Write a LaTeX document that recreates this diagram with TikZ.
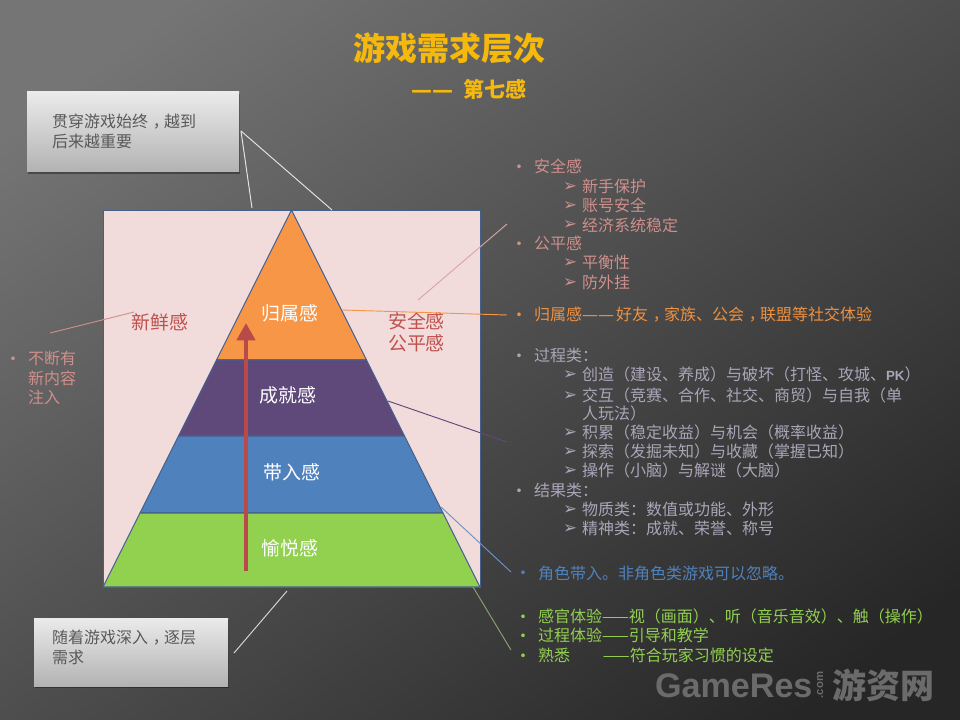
\documentclass[tikz,border=0pt]{standalone}
\usepackage{fontspec}
\setmainfont{Noto Sans CJK SC}
\newfontfamily\djv{DejaVu Sans}
\newfontfamily\lat{Liberation Sans}
\usetikzlibrary{arrows.meta}
\definecolor{pinktx}{HTML}{CF8F8C}
\definecolor{orgtx}{HTML}{EE9140}
\definecolor{purtx}{HTML}{ABA5B8}
\definecolor{blutx}{HTML}{4F81BD}
\definecolor{grntx}{HTML}{92D050}
\definecolor{gold}{HTML}{F5B80C}
\definecolor{panel}{HTML}{F2DCDB}
\definecolor{edge}{HTML}{44608C}
\definecolor{sidetx}{HTML}{C0504D}
\definecolor{shaft}{HTML}{B84A4A}
\definecolor{orgfill}{HTML}{F79646}
\definecolor{purfill}{HTML}{5F497A}
\definecolor{blufill}{HTML}{4F81BD}
\definecolor{grnfill}{HTML}{92D050}
\definecolor{wmark}{HTML}{6B6B6B}
\newcommand{\dd}{{\djv ——}}
\newcommand{\cmm}{\hspace{0.3em}，\hspace{-0.3em}}
\tikzset{
  x=0.75pt,y=-0.75pt,
  every node/.style={inner sep=0pt,outer sep=0pt},
  lbl/.style={anchor=west,font=\fontsize{12}{14}\selectfont},
  dot/.style={anchor=center,yshift=-1.5pt,font=\fontsize{9.5}{12}\selectfont\djv},
  chev/.style={anchor=center,yshift=-1pt,font=\fontsize{12.5}{14}\selectfont\djv},
  tier/.style={fill=#1,draw=edge,line width=0.8pt,line join=round},
  layer/.style={anchor=center,font=\fontsize{14.2}{17}\selectfont,text=white},
  side/.style={anchor=center,font=\fontsize{14.2}{17}\selectfont,text=sidetx},
  leader/.style={line width=0.7pt},
  card/.style={anchor=north west,top color=black!8,bottom color=black!30},
  cardtx/.style={anchor=west,align=left,text=black!65,font=\fontsize{12}{15}\selectfont},
}
\begin{document}
\begin{tikzpicture}
\useasboundingbox (0,0) rectangle (960,720);
\begin{scope}
\clip (0,0) rectangle (960,720);
\shade[shading=axis,top color=black!54,bottom color=black!85,shading angle=37] (-60,-60) rectangle (1020,780);
\end{scope}

% title
\node[anchor=center,text=gold,font=\fontsize{24}{28}\selectfont\bfseries] (title) at (449,48) {游戏需求层次};
\node[anchor=west,text=gold,font=\fontsize{15.75}{18}\selectfont\bfseries] (subtitle) at (411,89) {\dd\hspace{8pt}第七感};

% cards
\fill[black,opacity=.35] (28,94) rectangle (240,174);
\node[card,minimum width=159pt,minimum height=60pt] (cardA) at (27,92) {};
\node[cardtx] (cardAt) at (52,131) {贯穿游戏始终\cmm 越到\\后来越重要};
\fill[black,opacity=.35] (35,620) rectangle (229,688);
\node[card,minimum width=145.5pt,minimum height=51pt] (cardB) at (34,618) {};
\node[cardtx] (cardBt) at (52,647.5) {随着游戏深入\cmm 逐层\\需求};

% panel and pyramid
\filldraw[fill=panel,draw=edge,line width=0.7pt] (103,210) rectangle (480,587);
\path[tier=orgfill] (291.5,210) -- (366.5,360) -- (216.5,360) -- cycle;
\path[tier=purfill] (216.5,360) -- (366.5,360) -- (404.5,436) -- (178.5,436) -- cycle;
\path[tier=blufill] (178.5,436) -- (404.5,436) -- (443,513) -- (140,513) -- cycle;
\path[tier=grnfill] (140,513) -- (443,513) -- (480,587) -- (103,587) -- cycle;

\node[layer] (belong) at (290,313) {归属感};
\node[layer] (achieve) at (288,395) {成就感};
\node[layer] (immerse) at (292,472) {带入感};
\node[layer] (joy) at (290,548) {愉悦感};
\node[side] (fresh) at (160,322) {新鲜感};
\node[side,align=center,font=\fontsize{14.2}{16.5}\selectfont] (safe) at (416.5,332) {安全感\\公平感};

% ascent arrow
\coordinate (arrowfoot) at (246,571);
\coordinate (arrowtip) at (246,323);
\draw[shaft,line width=3.4pt,-{Triangle[width=13.5pt,length=13pt]}] (arrowfoot) -- (arrowtip);

% leaders
\coordinate (cA) at (241,131);
\coordinate (cA1) at (252,208);
\coordinate (cA2) at (332,210);
\coordinate (cB) at (234,653);
\coordinate (cB1) at (287,591);
\coordinate (n1) at (50,333);
\coordinate (n2) at (134,312);
\coordinate (s1) at (418,300);
\coordinate (s2) at (507,224);
\coordinate (o1) at (342,310);
\coordinate (o2) at (507,315);
\coordinate (p1) at (388,401);
\coordinate (p2) at (507,442);
\coordinate (b1) at (441,507);
\coordinate (b2) at (511,572);
\coordinate (g1) at (473,587);
\coordinate (g2) at (511,650);
\draw[leader,white!90!black] (cA) -- (cA1);
\draw[leader,white!90!black] (cA) -- (cA2);
\draw[leader,white!85!black] (cB) -- (cB1);
\draw[leader,pinktx] (n1) -- (n2);
\draw[leader,pinktx!80!white] (s1) -- (s2);
\draw[leader,orgfill] (o1) -- (o2);
\draw[leader,purfill] (p1) -- (p2);
\draw[leader,blufill!85!white] (b1) -- (b2);
\draw[leader,grnfill!60!black!70!white] (g1) -- (g2);

% left note
\node[dot,text=pinktx] (ld) at (13,358) {•};
\node[lbl,text=pinktx] (l1) at (28,358) {不断有};
\node[lbl,text=pinktx] (l2) at (28,378) {新内容};
\node[lbl,text=pinktx] (l3) at (28,397) {注入};

% right column: safety
\node[dot,text=pinktx] at (519,166) {•};
\node[lbl,text=pinktx] (a1) at (534,166) {安全感};
\node[chev,text=pinktx] at (570,186) {➢};
\node[lbl,text=pinktx] (a2) at (582,186) {新手保护};
\node[chev,text=pinktx] at (570,205) {➢};
\node[lbl,text=pinktx] (a3) at (582,205) {账号安全};
\node[chev,text=pinktx] at (570,224) {➢};
\node[lbl,text=pinktx] (a4) at (582,225) {经济系统稳定};
\node[dot,text=pinktx] at (519,243) {•};
\node[lbl,text=pinktx] (a5) at (534,243) {公平感};
\node[chev,text=pinktx] at (570,262) {➢};
\node[lbl,text=pinktx] (a6) at (582,262) {平衡性};
\node[chev,text=pinktx] at (570,282) {➢};
\node[lbl,text=pinktx] (a7) at (582,282) {防外挂};

% belonging
\node[dot,text=orgtx] at (519,314) {•};
\node[lbl,text=orgtx] (o) at (534,315) {归属感\dd\hspace{1.5pt}好友\cmm 家族、公会\cmm 联盟等社交体验};

% achievement
\node[dot,text=purtx] at (519,355) {•};
\node[lbl,text=purtx] (c1) at (534,355) {过程类：};
\node[chev,text=purtx] at (570,374) {➢};
\node[lbl,text=purtx] (c2) at (582,374) {创造（建设、养成）与破坏（打怪、攻城、{\lat\bfseries\fontsize{10}{12}\selectfont PK}）};
\node[chev,text=purtx] at (570,395) {➢};
\node[lbl,text=purtx] (c3) at (582,395) {交互（竞赛、合作、社交、商贸）与自我（单};
\node[lbl,text=purtx] (c3b) at (582,413) {人玩法）};
\node[chev,text=purtx] at (570,432) {➢};
\node[lbl,text=purtx] (c4) at (582,432) {积累（稳定收益）与机会（概率收益）};
\node[chev,text=purtx] at (570,451) {➢};
\node[lbl,text=purtx] (c5) at (582,451) {探索（发掘未知）与收藏（掌握已知）};
\node[chev,text=purtx] at (570,470) {➢};
\node[lbl,text=purtx] (c6) at (582,470) {操作（小脑）与解谜（大脑）};
\node[dot,text=purtx] at (519,490) {•};
\node[lbl,text=purtx] (c7) at (534,490) {结果类：};
\node[chev,text=purtx] at (570,509) {➢};
\node[lbl,text=purtx] (c8) at (582,509) {物质类：数值或功能、外形};
\node[chev,text=purtx] at (570,528) {➢};
\node[lbl,text=purtx] (c9) at (582,528) {精神类：成就、荣誉、称号};

% immersion
\node[dot,text=blutx] at (523,572) {•};
\node[lbl,text=blutx] (d1) at (538,573) {角色带入。非角色类游戏可以忽略。};

% joy
\node[dot,text=grntx] at (523,616) {•};
\node[lbl,text=grntx] (e1) at (538,616) {感官体验——视（画面）、听（音乐音效）、触（操作）};
\node[dot,text=grntx] at (523,635) {•};
\node[lbl,text=grntx] (e2) at (538,635) {过程体验——引导和教学};
\node[dot,text=grntx] at (523,655) {•};
\node[lbl,text=grntx] (e3) at (538,655) {熟悉\hspace{24.75pt}——符合玩家习惯的设定};

% watermark
\node[anchor=west,text=wmark,font=\lat\bfseries\fontsize{25.6}{28}\selectfont] (wm1) at (655,686) {GameRes};
\node[anchor=center,text=wmark,rotate=90,font=\lat\bfseries\fontsize{8.5}{9}\selectfont] (wm2) at (820,685) {.com};
\node[anchor=west,text=wmark,font=\fontsize{25.5}{28}\selectfont\bfseries] (wm3) at (832,685) {游资网};
\end{tikzpicture}
\end{document}
